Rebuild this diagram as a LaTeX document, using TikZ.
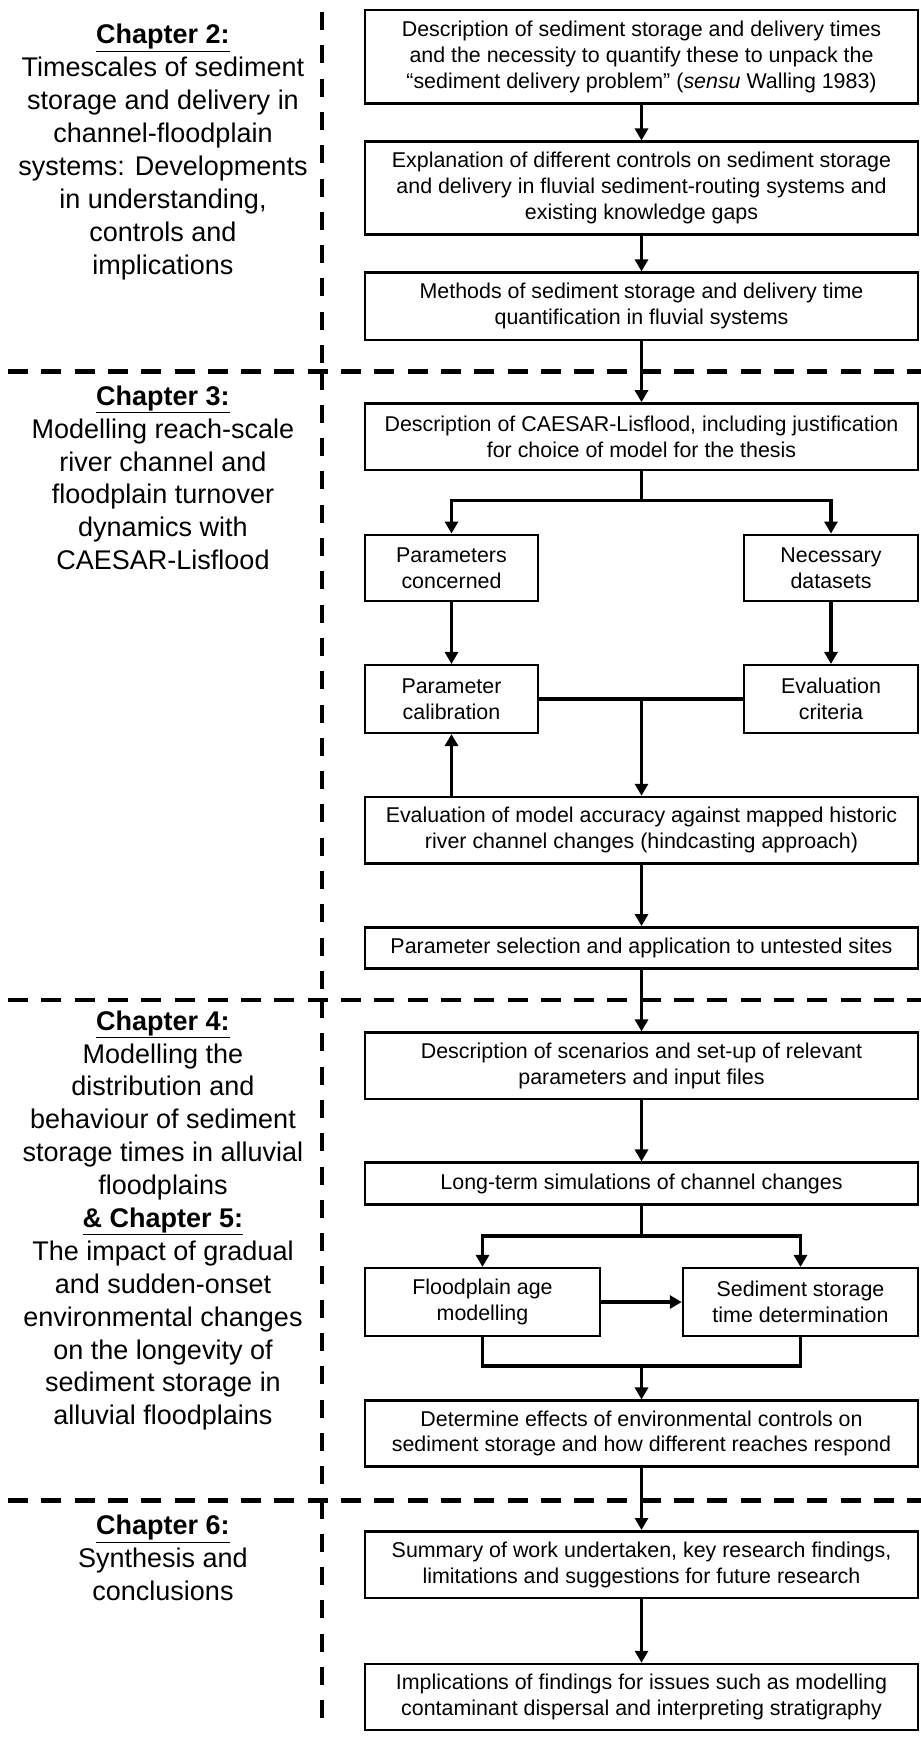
\documentclass[tikz,border=0pt]{standalone}
\usepackage{fontspec}
\setmainfont{Liberation Sans}
\usetikzlibrary{arrows.meta}
\begin{document}
\begin{tikzpicture}[x=1pt,y=-1pt,
  box/.style={draw, line width=2.5pt, align=center, inner sep=0pt,
    font=\fontsize{21.4}{25.8}\selectfont, minimum width=553pt},
  sbox/.style={box, minimum width=173pt},
  mbox/.style={box, minimum width=235pt},
  chap/.style={align=center, inner sep=0pt, font=\fontsize{27}{32.9}\selectfont},
  conn/.style={line width=3.5pt, line join=miter},
  arr/.style={conn, -{Triangle[width=13pt,length=12pt]}},
  hd/.style={line width=4.5pt, dash pattern=on 20pt off 13.3pt},
  vd/.style={line width=4pt, dash pattern=on 18pt off 15.3pt}
]
\useasboundingbox (0,0) rectangle (921,1738);
\fill[white] (0,0) rectangle (921,1738);

% dashed separators
\draw[hd] (8,371.5) -- (921,371.5);
\draw[hd] (8,1000) -- (921,1000);
\draw[hd] (8,1500.5) -- (921,1500.5);
\draw[vd] (321.5,12) -- (321.5,371.5);
\draw[vd] (321.5,371.5) -- (321.5,1000);
\draw[vd] (321.5,1000) -- (321.5,1500.5);
\draw[vd] (321.5,1500.5) -- (321.5,1730);

% chapter labels
\node[chap] (c2) at (163,152) {\underline{\textbf{Chapter 2:}}\\ Timescales of sediment\\ storage and delivery in\\ channel-floodplain\\ systems: Developments\\ in understanding,\\ controls and\\ implications};
\node[chap] (c3) at (163,477.8) {\underline{\textbf{Chapter 3:}}\\ Modelling reach-scale\\ river channel and\\ floodplain turnover\\ dynamics with\\ CAESAR-Lisflood};
\node[chap] (c4) at (163,1220.5) {\underline{\textbf{Chapter 4:}}\\ Modelling the\\ distribution and\\ behaviour of sediment\\ storage times in alluvial\\ floodplains\\ \underline{\textbf{\& Chapter 5:}}\\ The impact of gradual\\ and sudden-onset\\ environmental changes\\ on the longevity of\\ sediment storage in\\ alluvial floodplains};
\node[chap] (c6) at (163,1558) {\underline{\textbf{Chapter 6:}}\\ Synthesis and\\ conclusions};

% boxes
\node[box, minimum height=93.3pt] (b1) at (641.5,56.7) {Description of sediment storage and delivery times\\ and the necessity to quantify these to unpack the\\ “sediment delivery problem” (\textit{sensu} Walling 1983)};
\node[box, minimum height=92.6pt] (b2) at (641.5,188) {Explanation of different controls on sediment storage\\ and delivery in fluvial sediment-routing systems and\\ existing knowledge gaps};
\node[box, minimum height=67.3pt] (b3) at (641.5,306.3) {Methods of sediment storage and delivery time\\ quantification in fluvial systems};
\node[box, minimum height=66.5pt] (cl) at (641.5,436.7) {Description of CAESAR-Lisflood, including justification\\ for choice of model for the thesis};
\node[sbox, minimum height=66.4pt] (pc) at (451.5,568) {Parameters\\ concerned};
\node[sbox, minimum height=66.4pt, minimum width=174pt] (nd) at (831,568) {Necessary\\ datasets};
\node[sbox, minimum height=67.6pt] (pcal) at (451.5,699) {Parameter\\ calibration};
\node[sbox, minimum height=67.6pt, minimum width=174pt] (ec) at (831,699) {Evaluation\\ criteria};
\node[box, minimum height=66.4pt] (em) at (641.5,830.2) {Evaluation of model accuracy against mapped historic\\ river channel changes (hindcasting approach)};
\node[box, minimum height=41pt] (ps) at (641.5,947.8) {Parameter selection and application to untested sites};
\node[box, minimum height=66.3pt] (ds) at (641.5,1065.8) {Description of scenarios and set-up of relevant\\ parameters and input files};
\node[box, minimum height=41.6pt] (lt) at (641.5,1183.5) {Long-term simulations of channel changes};
\node[mbox, minimum height=67.7pt] (fp) at (482.5,1302) {Floodplain age\\ modelling};
\node[mbox, minimum height=67.7pt] (ss) at (800.5,1302) {Sediment storage\\ time determination};
\node[box, minimum height=65.6pt] (det) at (641.5,1433.5) {Determine effects of environmental controls on\\ sediment storage and how different reaches respond};
\node[box, minimum height=66.7pt] (sum) at (641.5,1564.6) {Summary of work undertaken, key research findings,\\ limitations and suggestions for future research};
\node[box, minimum height=66pt] (imp) at (641.5,1697) {Implications of findings for issues such as modelling\\ contaminant dispersal and interpreting stratigraphy};

% connectors
\draw[arr] (b1) -- (b2);
\draw[arr] (b2) -- (b3);
\draw[arr] (b3) -- (cl);
\coordinate (s1) at (641.5,500.4);
\draw[conn] (cl.south) -- (s1);
\draw[arr] (s1) -| (pc.north);
\draw[arr] (s1) -| (nd.north);
\draw[arr] (pc) -- (pcal);
\draw[arr] (nd) -- (ec);
\draw[conn] (pcal.east) -- (ec.west);
\coordinate (j1) at (641.5,699);
\draw[arr] (j1) -- (em.north);
\draw[arr] (pcal.south |- em.north) -- (pcal.south);
\draw[arr] (em) -- (ps);
\draw[arr] (ps) -- (ds);
\draw[arr] (ds) -- (lt);
\coordinate (s2) at (641.5,1236);
\draw[conn] (lt.south) -- (s2);
\draw[arr] (s2) -| (fp.north);
\draw[arr] (s2) -| (ss.north);
\draw[arr] (fp) -- (ss);
\coordinate (m1) at (641.5,1366);
\draw[conn] (fp.south) |- (m1) -| (ss.south);
\draw[arr] (m1) -- (det.north);
\draw[arr] (det) -- (sum);
\draw[arr] (sum) -- (imp);
\end{tikzpicture}
\end{document}
